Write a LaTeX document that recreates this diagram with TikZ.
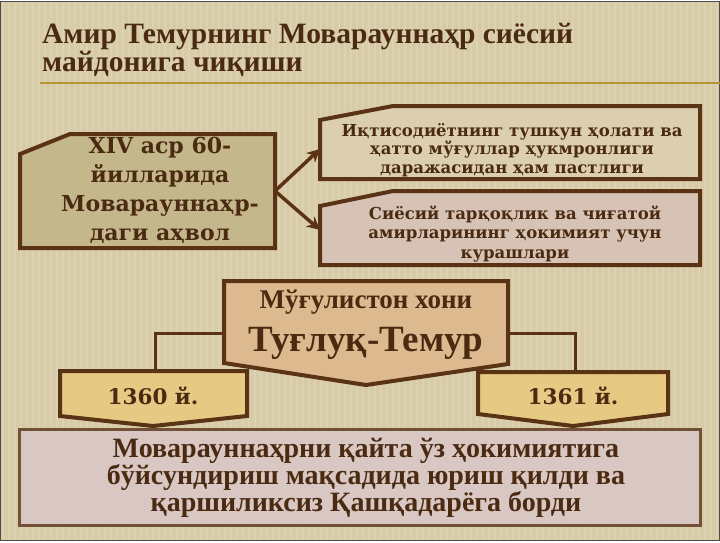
\documentclass[tikz,border=0pt]{standalone}
\usepackage{fontspec}
\setmainfont{Liberation Serif}
\newfontfamily\wideserif{DejaVu Serif}
\usetikzlibrary{arrows.meta,shadows}

\definecolor{slidebg}{HTML}{D8CCA8}
\definecolor{linebrown}{HTML}{5A3214}
\definecolor{textbrown}{HTML}{4A2A10}
\definecolor{rulegold}{HTML}{B8943A}
\definecolor{olivebox}{HTML}{C4B78C}
\definecolor{sandbox}{HTML}{DCCFAF}
\definecolor{rosebox}{HTML}{D6C3B5}
\definecolor{peachbox}{HTML}{DDB98F}
\definecolor{yearbox}{HTML}{E6C983}
\definecolor{mistbox}{HTML}{D9C7C3}

\tikzset{
  frame/.style={draw=linebrown, line width=4pt, line join=miter},
  arrow/.style={draw=linebrown, line width=3.5pt, -{Stealth[length=13pt,width=13pt]}},
  link/.style={draw=linebrown, line width=3pt},
  label/.style={text=textbrown, inner sep=0pt, align=center},
}

\begin{document}
\begin{tikzpicture}[x=1pt,y=-1pt]
  % Slide background with light stripes
  \fill[slidebg] (0,0) rectangle (720,540);
  \foreach \x in {3,9,...,720}
    \draw[white, opacity=0.12, line width=2pt] (\x,0) -- (\x,540);
  \draw[gray!60!black, line width=1pt] (0.5,0.5) rectangle (719.5,539.5);
  \useasboundingbox (0,0) rectangle (720,540);

  % Title and its rule
  \node[label, align=left, anchor=north west,
        font=\bfseries\fontsize{29.5}{28}\selectfont] (title) at (42,22)
    {Амир Темурнинг Моварауннаҳр сиёсий\\майдонига чиқиши};
  \draw[rulegold, line width=2pt] (40,82) -- (720,82);

  % Situation box with its two causes
  \draw[frame, fill=olivebox] (20,153) -- (70,133) -- (275,133) -- (275,247) -- (20,247) -- cycle;
  \node[label, font=\wideserif\bfseries\fontsize{22}{29}\selectfont] (situ) at (160,189)
    {XIV аср 60-\\йилларида\\Моварауннаҳр-\\даги аҳвол};
  \coordinate (situ-e) at (275,190);

  \draw[frame, fill=sandbox] (320,119) -- (393,105) -- (700,105) -- (700,178) -- (320,178) -- cycle;
  \node[label, font=\wideserif\bfseries\fontsize{16.5}{18.5}\selectfont] (econ) at (512,149)
    {Иқтисодиётнинг тушкун ҳолати ва\\ҳатто мўғуллар ҳукмронлиги\\даражасидан ҳам пастлиги};
  \coordinate (econ-w) at (320,148);

  \draw[frame, fill=rosebox] (320,205) -- (393,190) -- (700,190) -- (700,264) -- (320,264) -- cycle;
  \node[label, font=\wideserif\bfseries\fontsize{16.5}{19.5}\selectfont] (pol) at (515,233)
    {Сиёсий тарқоқлик ва чиғатой\\амирларининг ҳокимият учун\\курашлари};
  \coordinate (pol-w) at (320,229);

  \draw[arrow] (situ-e) -- (econ-w);
  \draw[arrow] (situ-e) -- (pol-w);

  % Khan box and the two years
  \coordinate (khan-w) at (224,332);
  \coordinate (khan-e) at (508,332);
  \coordinate (y1360-n) at (155,370);
  \coordinate (y1361-n) at (575,370);
  \draw[link] (khan-w) -| (y1360-n);
  \draw[link] (khan-e) -| (y1361-n);

  \draw[frame, fill=peachbox] (224,280) -- (508,280) -- (508,363) -- (366,384) -- (224,362) -- cycle;
  \node[label, font=\bfseries\fontsize{27}{28}\selectfont] (khan-title) at (366,301)
    {Мўғулистон хони};
  \node[label, font=\bfseries\fontsize{37}{38}\selectfont] (khan-name) at (366,342)
    {Туғлуқ-Темур};

  \draw[frame, fill=yearbox] (60,370) -- (247,370) -- (247,415) -- (153,425) -- (60,415) -- cycle;
  \node[label, font=\wideserif\bfseries\fontsize{21.5}{22}\selectfont] (y1360) at (153,395) {1360 й.};

  \draw[frame, fill=yearbox] (478,371) -- (668,371) -- (668,413) -- (573,425) -- (478,413) -- cycle;
  \node[label, font=\wideserif\bfseries\fontsize{21.5}{22}\selectfont] (y1361) at (573,395) {1361 й.};

  % Outcome
  \draw[draw=linebrown!85!white, line width=3pt, fill=mistbox,
        drop shadow={opacity=0.45, shadow xshift=2pt, shadow yshift=-2pt}]
    (19,428) rectangle (700,524);
  \node[label, font=\bfseries\fontsize{28}{25.5}\selectfont] (goal) at (366,477)
    {Моварауннаҳрни қайта ўз ҳокимиятига\\бўйсундириш мақсадида юриш қилди ва\\қаршиликсиз Қашқадарёга борди};
\end{tikzpicture}
\end{document}
